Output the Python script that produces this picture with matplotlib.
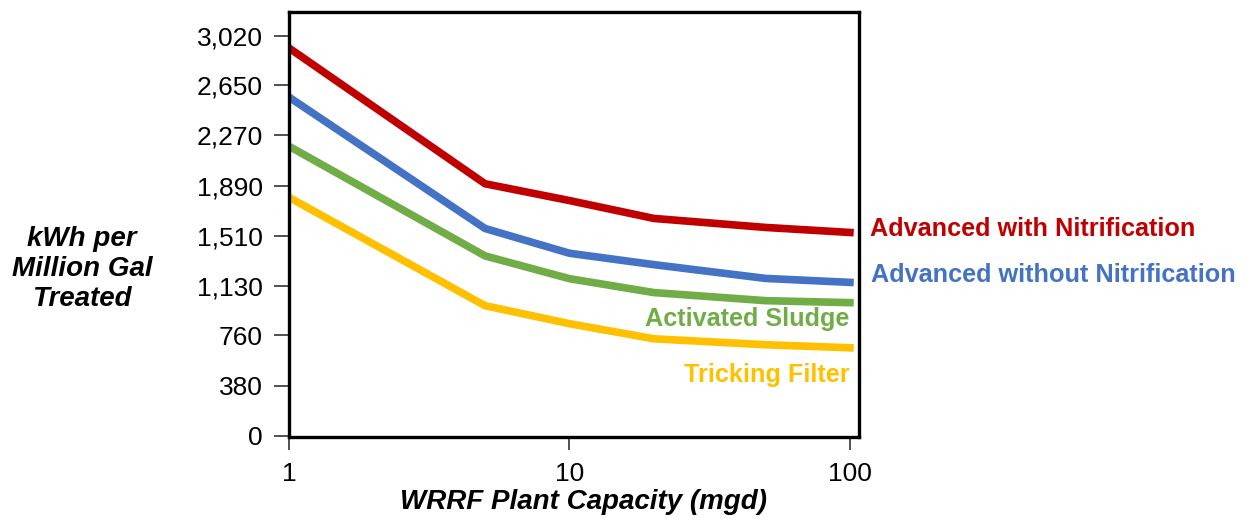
import matplotlib.pyplot as plt
import matplotlib.ticker as mticker

plt.rcParams['font.family'] = ['Liberation Sans', 'DejaVu Sans']

# plant capacity (mgd)
capacity = [1, 5, 10, 20, 50, 100]

# kWh per million gal treated
adv_nitrif = [2930, 1905, 1778, 1643, 1575, 1537]
adv_no_nitrif = [2559, 1567, 1380, 1294, 1190, 1160]
act_sludge = [2188, 1360, 1188, 1083, 1022, 1007]
trick_filter = [1802, 984, 848, 734, 689, 666]

ytick_vals = [0, 380, 760, 1130, 1510, 1890, 2270, 2650, 3020]
ytick_labels = ['0', '380', '760', '1,130', '1,510', '1,890', '2,270', '2,650', '3,020']
xtick_vals = [1, 10, 100]
xtick_labels = ['1', '10', '100']

RED = '#C00000'
BLUE = '#4472C4'
GREEN = '#70AD47'
YELLOW = '#FFC000'

fig = plt.figure(figsize=(12.49, 5.23), dpi=100)
ax = fig.add_axes([0.2314, 0.1644, 0.4563, 0.8126])

lw = 5.5
ax.plot(capacity, adv_nitrif, color=RED, lw=lw, solid_joinstyle='round')
ax.plot(capacity, adv_no_nitrif, color=BLUE, lw=lw, solid_joinstyle='round')
ax.plot(capacity, act_sludge, color=GREEN, lw=lw, solid_joinstyle='round')
ax.plot(capacity, trick_filter, color=YELLOW, lw=lw, solid_joinstyle='round')

ax.set_xscale('log')
ax.set_xlim(1, 107.7)
ax.set_ylim(-8, 3202)

ax.set_xticks(xtick_vals)
ax.set_xticklabels(xtick_labels)
ax.xaxis.set_minor_locator(mticker.NullLocator())
ax.set_yticks(ytick_vals)
ax.set_yticklabels(ytick_labels)

ax.tick_params(axis='both', labelsize=19, length=11, width=1.2, color='#333333')
ax.tick_params(axis='y', pad=8)
ax.tick_params(axis='x', pad=9, length=9)

for sp in ax.spines.values():
    sp.set_linewidth(2.4)
    sp.set_color('black')

# series labels
fs = 18.2
ax.text(1.019, 0.489, 'Advanced with Nitrification', transform=ax.transAxes,
        color=RED, fontsize=fs, fontweight='bold', ha='left', va='center')
ax.text(1.022, 0.381, 'Advanced without Nitrification', transform=ax.transAxes,
        color=BLUE, fontsize=fs, fontweight='bold', ha='left', va='center')
ax.text(0.984, 0.278, 'Activated Sludge', transform=ax.transAxes,
        color=GREEN, fontsize=fs, fontweight='bold', ha='right', va='center')
ax.text(0.984, 0.146, 'Tricking Filter', transform=ax.transAxes,
        color=YELLOW, fontsize=fs, fontweight='bold', ha='right', va='center')

fig.text(82 / 1249, 1 - 269 / 523, 'kWh per\nMillion Gal\nTreated', fontsize=20,
         fontweight='bold', fontstyle='italic', ha='center', va='center',
         linespacing=1.22)
fig.text(583 / 1249, 1 - 502 / 523, 'WRRF Plant Capacity (mgd)', fontsize=20,
         fontweight='bold', fontstyle='italic', ha='center', va='center')

fig.savefig('out.png', dpi=100)
